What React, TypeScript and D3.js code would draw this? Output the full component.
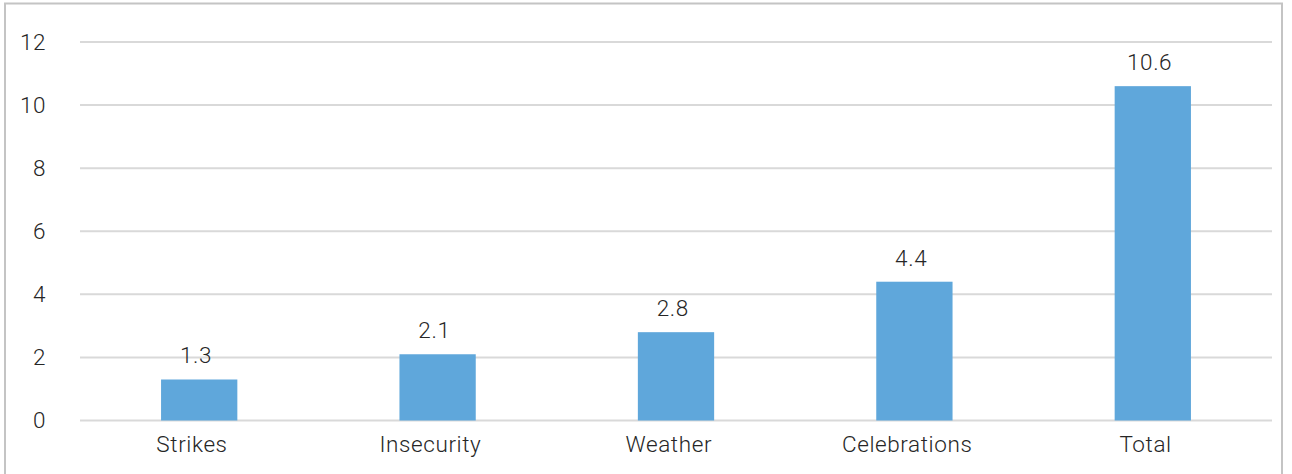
import React from "react";
import * as d3 from "d3";

const categories = ["Strikes", "Insecurity", "Weather", "Celebrations", "Total"];
const values = [1.3, 2.1, 2.8, 4.4, 10.6];
const yTicks = [0, 2, 4, 6, 8, 10, 12];

export default function App() {
  const W = 1292, H = 474;
  const left = 80, right = 1272, top = 42, bottom = 420.5;
  const x = d3.scaleBand<string>().domain(categories).range([left, right]).paddingInner(0.68).paddingOuter(0.34);
  const y = d3.scaleLinear().domain([0, 12]).range([bottom, top]);
  const font = "Roboto, 'Open Sans', sans-serif";
  const ls = 0.6;
  const fs = 22.5;
  return (
    <svg width={W} height={H} style={{ position: "absolute", left: 0, top: 0 }}>
      <rect x={0} y={0} width={W} height={H} fill="#fff" />
      <rect x={5} y={3.5} width={1277} height={480} fill="none" stroke="#c4c4c4" strokeWidth={2} />
      {yTicks.map((t) => (
        <g key={t}>
          <line x1={left} x2={right} y1={y(t)} y2={y(t)} stroke="#d9d9d9" strokeWidth={2} />
          <text x={45.5 + ls} y={y(t)} dy="0.35em" textAnchor="end" fontFamily={font} fontSize={fs} letterSpacing={ls} fontWeight={300} fill="#262626">
            {t}
          </text>
        </g>
      ))}
      {categories.map((c, i) => {
        const bx = x(c)!;
        const bw = x.bandwidth();
        const cx = bx + bw / 2;
        return (
          <g key={c}>
            <rect x={bx} y={y(values[i])} width={bw} height={y(0) - y(values[i])} fill="#5FA7DB" />
            <text x={cx - 3.5 + ls / 2} y={y(values[i]) - 16} textAnchor="middle" fontFamily={font} fontSize={fs} letterSpacing={ls} fontWeight={300} fill="#262626">
              {values[i]}
            </text>
            <text x={cx - 7.5 + ls / 2} y={452} textAnchor="middle" fontFamily={font} fontSize={fs} letterSpacing={ls} fontWeight={300} fill="#262626">
              {c}
            </text>
          </g>
        );
      })}
    </svg>
  );
}
